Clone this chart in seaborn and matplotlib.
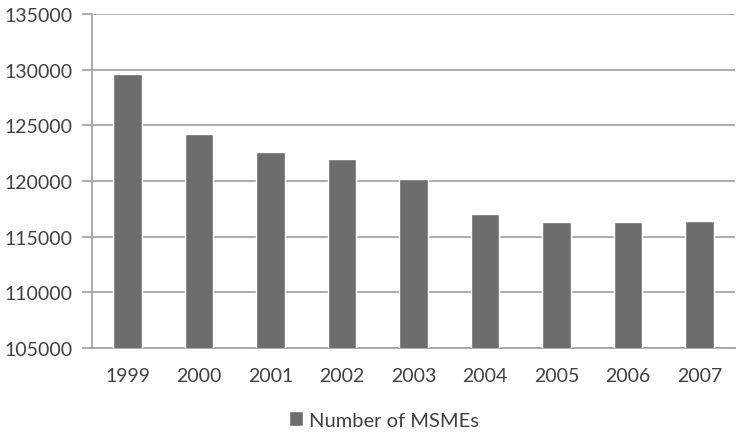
import numpy as np
import pandas as pd
import matplotlib
matplotlib.use("Agg")
import matplotlib.pyplot as plt
import seaborn as sns

years = ["1999", "2000", "2001", "2002", "2003", "2004", "2005", "2006", "2007"]
msmes = [129600, 124200, 122600, 122000, 120150, 117000, 116350, 116350, 116380]
series_name = "Number of MSMEs"
yticks = [105000, 110000, 115000, 120000, 125000, 130000, 135000]

df = pd.DataFrame({"year": years, "value": msmes})

sns.set_style("white")
plt.rcParams["font.family"] = ["Lato", "DejaVu Sans"]

grid_c = "#a6a6a6"
text_c = "#404040"
bar_c = "#6d6d6d"

fig = plt.figure(figsize=(7.38, 4.35), dpi=100)
ax = fig.add_axes([92 / 738, 1 - 349 / 435, (735 - 92) / 738, (349 - 15) / 435])

sns.barplot(data=df, x="year", y="value", color=bar_c, width=0.4,
            saturation=1, label=series_name, ax=ax, zorder=3)

ax.set_ylim(105000, 135000)
ax.set_yticks(yticks)
ax.set_yticklabels([str(v) for v in yticks])
ax.set_xlim(-0.5, len(years) - 0.5)
ax.yaxis.grid(True, color=grid_c, linewidth=1.3, zorder=0)
ax.set_axisbelow(True)
ax.set_xlabel("")
ax.set_ylabel("")

for s in ["top", "right"]:
    ax.spines[s].set_visible(False)
for s in ["left", "bottom"]:
    ax.spines[s].set_color(grid_c)
    ax.spines[s].set_linewidth(1.3)

ax.set_xticks(np.arange(-0.5, len(years), 1), minor=True)
ax.tick_params(axis="x", which="major", length=0, pad=14, labelsize=14, labelcolor=text_c)
ax.tick_params(axis="x", which="minor", length=6, width=1.3, color=grid_c, direction="out")
ax.tick_params(axis="y", which="major", length=7, width=1.3, color=grid_c, pad=7,
               labelsize=14, labelcolor=text_c, left=True)

leg = ax.get_legend()
if leg is not None:
    leg.remove()
handles, labels = ax.get_legend_handles_labels()
fig.legend(handles, labels, loc="center", bbox_to_anchor=(0.52, 1 - 421 / 435),
           frameon=False, fontsize=14.5, handlelength=0.7, handleheight=0.7,
           handletextpad=0.3, labelcolor=text_c)

fig.savefig("out.png", dpi=100)
